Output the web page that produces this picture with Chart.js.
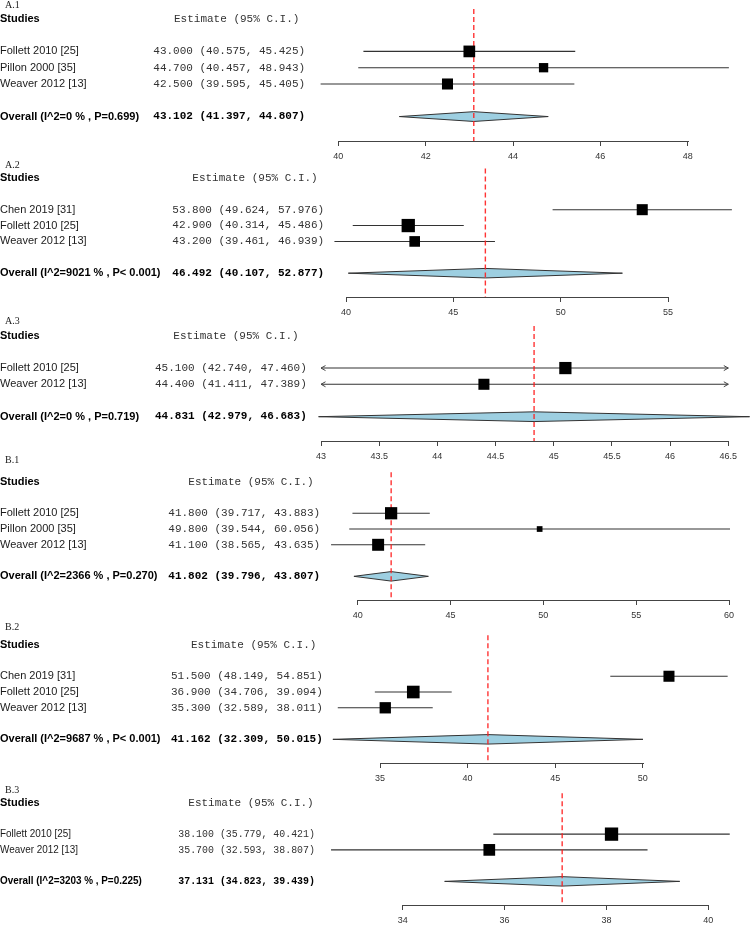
<!DOCTYPE html>
<html>
<head>
<meta charset="utf-8">
<script src="https://cdn.jsdelivr.net/npm/chart.js@4.4.1/dist/chart.umd.min.js"></script>
<style>
  body { margin: 0; background: #fff; }
  #wrap { position: relative; width: 750px; height: 939px; overflow: hidden; }
  #wrap canvas { position: absolute; left: 0; }
</style>
</head>
<body>
<div id="wrap"></div>
<script>
// A.1
const a1Studies = ['Follett 2010 [25]', 'Pillon 2000 [35]', 'Weaver 2012 [13]'];
const a1Est = [43.000, 44.700, 42.500];
const a1Lo = [40.575, 40.457, 39.595];
const a1Hi = [45.425, 48.943, 45.405];
const a1Weight = [0.88, 0.70, 0.83];
const a1Overall = [43.102, 41.397, 44.807];
const a1OverallLabel = 'Overall (I^2=0 % , P=0.699)';
const a1Ticks = [40, 42, 44, 46, 48];

// A.2
const a2Studies = ['Chen 2019 [31]', 'Follett 2010 [25]', 'Weaver 2012 [13]'];
const a2Est = [53.800, 42.900, 43.200];
const a2Lo = [49.624, 40.314, 39.461];
const a2Hi = [57.976, 45.486, 46.939];
const a2Weight = [0.83, 1.0, 0.80];
const a2Overall = [46.492, 40.107, 52.877];
const a2OverallLabel = 'Overall (I^2=9021 % , P< 0.001)';
const a2Ticks = [40, 45, 50, 55];

// A.3
const a3Studies = ['Follett 2010 [25]', 'Weaver 2012 [13]'];
const a3Est = [45.100, 44.400];
const a3Lo = [42.740, 41.411];
const a3Hi = [47.460, 47.389];
const a3Weight = [0.92, 0.83];
const a3Overall = [44.831, 42.979, 46.683];
const a3OverallLabel = 'Overall (I^2=0 % , P=0.719)';
const a3Ticks = [43, 43.5, 44, 44.5, 45, 45.5, 46, 46.5];

// B.1
const b1Studies = ['Follett 2010 [25]', 'Pillon 2000 [35]', 'Weaver 2012 [13]'];
const b1Est = [41.800, 49.800, 41.100];
const b1Lo = [39.717, 39.544, 38.565];
const b1Hi = [43.883, 60.056, 43.635];
const b1Weight = [0.92, 0.43, 0.90];
const b1Overall = [41.802, 39.796, 43.807];
const b1OverallLabel = 'Overall (I^2=2366 % , P=0.270)';
const b1Ticks = [40, 45, 50, 55, 60];

// B.2
const b2Studies = ['Chen 2019 [31]', 'Follett 2010 [25]', 'Weaver 2012 [13]'];
const b2Est = [51.500, 36.900, 35.300];
const b2Lo = [48.149, 34.706, 32.589];
const b2Hi = [54.851, 39.094, 38.011];
const b2Weight = [0.83, 0.95, 0.85];
const b2Overall = [41.162, 32.309, 50.015];
const b2OverallLabel = 'Overall (I^2=9687 % , P< 0.001)';
const b2Ticks = [35, 40, 45, 50];

// B.3
const b3Studies = ['Follett 2010 [25]', 'Weaver 2012 [13]'];
const b3Est = [38.100, 35.700];
const b3Lo = [35.779, 32.593];
const b3Hi = [40.421, 38.807];
const b3Weight = [1.0, 0.88];
const b3Overall = [37.131, 34.823, 39.439];
const b3OverallLabel = 'Overall (I^2=3203 % , P=0.225)';
const b3Ticks = [34, 36, 38, 40];

const W = 750;
const BOX = 13.3;      // px side of a square with weight 1
const DIA = 0.3;       // diamond half height, in rows
const AXIS_H = 26;
const ROW_MIN = -2.2;
const SANS = '"Liberation Sans", Arial, sans-serif';
const MONO = '"Liberation Mono", "Courier New", monospace';
const SERIF = '"Liberation Serif", "Times New Roman", serif';

// page layout of each panel (pixels); sx squeezes the row text of B.3
const panels = [
  { name: 'A.1', studies: a1Studies, est: a1Est, lo: a1Lo, hi: a1Hi, weight: a1Weight, overall: a1Overall, overallLabel: a1OverallLabel, ticks: a1Ticks,
    headerY: 18, axisY: 140.5, labelRow: -0.82, tickL: 338.3, tickR: 687.7, estX: 153.3, headX: 174, sx: 1 },
  { name: 'A.2', studies: a2Studies, est: a2Est, lo: a2Lo, hi: a2Hi, weight: a2Weight, overall: a2Overall, overallLabel: a2OverallLabel, ticks: a2Ticks,
    headerY: 178, axisY: 296.7, labelRow: -0.82, tickL: 346, tickR: 668, estX: 172.3, headX: 192.3, sx: 1 },
  { name: 'A.3', studies: a3Studies, est: a3Est, lo: a3Lo, hi: a3Hi, weight: a3Weight, overall: a3Overall, overallLabel: a3OverallLabel, ticks: a3Ticks,
    headerY: 335, axisY: 440.7, labelRow: -0.89, tickL: 321, tickR: 728.3, estX: 155, headX: 173.3, sx: 1, arrows: true },
  { name: 'B.1', studies: b1Studies, est: b1Est, lo: b1Lo, hi: b1Hi, weight: b1Weight, overall: b1Overall, overallLabel: b1OverallLabel, ticks: b1Ticks,
    headerY: 481.7, axisY: 600, labelRow: -1.37, tickL: 357.7, tickR: 729, estX: 168.3, headX: 188.3, sx: 1 },
  { name: 'B.2', studies: b2Studies, est: b2Est, lo: b2Lo, hi: b2Hi, weight: b2Weight, overall: b2Overall, overallLabel: b2OverallLabel, ticks: b2Ticks,
    headerY: 645, axisY: 763.3, labelRow: -1.08, tickL: 380, tickR: 642.7, estX: 171, headX: 191, sx: 1 },
  { name: 'B.3', studies: b3Studies, est: b3Est, lo: b3Lo, hi: b3Hi, weight: b3Weight, overall: b3Overall, overallLabel: b3OverallLabel, ticks: b3Ticks,
    headerY: 802.3, axisY: 905, labelRow: -0.78, tickL: 402.7, tickR: 708.3, estX: 178.3, headX: 188.3, sx: 0.9 }
];

function estText(e, l, h) {
  return `${e.toFixed(3)} (${l.toFixed(3)}, ${h.toFixed(3)})`;
}

function textPlugin(p, rows, ovRow) {
  const first = p.ticks[0], last = p.ticks[p.ticks.length - 1];
  return {
    id: 'forestText',
    afterDraw(chart) {
      const ctx = chart.ctx, xs = chart.scales.x, ys = chart.scales.y;
      const put = (txt, x, y, sx) => {
        ctx.save();
        ctx.translate(x, y);
        ctx.scale(sx, 1);
        ctx.fillText(txt, 0, 0);
        ctx.restore();
      };
      ctx.save();

      // axis line only between the outer ticks
      const ay = Math.round(chart.chartArea.bottom) + 0.5;
      ctx.strokeStyle = '#444';
      ctx.lineWidth = 1;
      ctx.beginPath();
      ctx.moveTo(Math.round(xs.getPixelForValue(first)), ay);
      ctx.lineTo(Math.round(xs.getPixelForValue(last)) + 1, ay);
      ctx.stroke();

      // arrows where a CI runs past the axis
      if (p.arrows) {
        ctx.strokeStyle = '#444';
        rows.forEach((r, i) => {
          const y = ys.getPixelForValue(r);
          if (p.lo[i] < first) {
            const x0 = xs.getPixelForValue(first);
            ctx.beginPath();
            ctx.moveTo(x0 + 4.5, y - 2.5); ctx.lineTo(x0, y); ctx.lineTo(x0 + 4.5, y + 2.5);
            ctx.stroke();
          }
          if (p.hi[i] > last) {
            const x1 = xs.getPixelForValue(last);
            ctx.beginPath();
            ctx.moveTo(x1 - 4.5, y - 2.5); ctx.lineTo(x1, y); ctx.lineTo(x1 - 4.5, y + 2.5);
            ctx.stroke();
          }
        });
      }

      ctx.textBaseline = 'middle';
      ctx.textAlign = 'left';

      ctx.fillStyle = '#222';
      ctx.font = `10px ${SERIF}`;
      ctx.fillText(p.name, 5, ys.getPixelForValue(p.labelRow));

      ctx.fillStyle = '#000';
      ctx.font = `bold 11px ${SANS}`;
      ctx.fillText('Studies', 0, ys.getPixelForValue(0));
      ctx.fillStyle = '#333';
      ctx.font = `11px ${MONO}`;
      ctx.fillText('Estimate (95% C.I.)', p.headX, ys.getPixelForValue(0));

      p.studies.forEach((s, i) => {
        const y = ys.getPixelForValue(rows[i]);
        ctx.fillStyle = '#1a1a1a';
        ctx.font = `11px ${SANS}`;
        put(s, 0, y, p.sx);
        ctx.fillStyle = '#333';
        ctx.font = `11px ${MONO}`;
        put(estText(p.est[i], p.lo[i], p.hi[i]), p.estX, y, p.sx);
      });

      const yo = ys.getPixelForValue(ovRow);
      ctx.fillStyle = '#000';
      ctx.font = `bold 11px ${SANS}`;
      put(p.overallLabel, 0, yo, p.sx);
      ctx.font = `bold 11px ${MONO}`;
      put(estText(p.overall[0], p.overall[1], p.overall[2]), p.estX, yo, p.sx);

      ctx.restore();
    }
  };
}

function drawPanel(p) {
  const n = p.studies.length;
  const rows = p.studies.map((s, i) => i + 2);
  const ovRow = n + 3;
  const yMax = ovRow + 1.5;
  const sp = (p.axisY - p.headerY) / yMax;
  const areaH = Math.round((yMax - ROW_MIN) * sp);
  const top = p.axisY - areaH;

  const first = p.ticks[0], last = p.ticks[p.ticks.length - 1];
  const k = (p.tickR - p.tickL) / (last - first);
  const xMin = first - p.tickL / k;
  const xMax = first + (W - p.tickL) / k;

  const lo = p.arrows ? p.lo.map(v => Math.max(v, first)) : p.lo;
  const hi = p.arrows ? p.hi.map(v => Math.min(v, last)) : p.hi;
  const [ov, ovLo, ovHi] = p.overall;

  const canvas = document.createElement('canvas');
  canvas.width = W;
  canvas.height = areaH + AXIS_H;
  canvas.style.top = top + 'px';
  document.getElementById('wrap').appendChild(canvas);

  const datasets = [
    {
      label: 'estimate',
      data: p.est.map((v, i) => ({ x: v, y: rows[i] })),
      pointStyle: 'rect',
      pointRadius: p.weight.map(w => w * BOX / Math.SQRT2),
      backgroundColor: '#000',
      borderWidth: 0,
      order: 0
    },
    {
      label: 'overall line',
      data: [{ x: ov, y: -0.6 }, { x: ov, y: yMax }],
      showLine: true,
      pointRadius: 0,
      borderColor: 'rgba(255,30,30,0.9)',
      borderWidth: 1.4,
      borderDash: [5, 3],
      order: 1
    },
    ...p.studies.map((s, i) => ({
      label: s,
      data: [{ x: lo[i], y: rows[i] }, { x: hi[i], y: rows[i] }],
      showLine: true,
      pointRadius: 0,
      borderColor: '#333',
      borderWidth: 1.1,
      order: 2
    })),
    {
      label: 'overall',
      data: [
        { x: ovLo, y: ovRow }, { x: ov, y: ovRow - DIA },
        { x: ovHi, y: ovRow }, { x: ov, y: ovRow + DIA }, { x: ovLo, y: ovRow }
      ],
      showLine: true,
      pointRadius: 0,
      borderColor: '#333',
      borderWidth: 1,
      backgroundColor: '#9dcfe1',
      fill: 'shape',
      order: 3
    }
  ];

  new Chart(canvas, {
    type: 'scatter',
    data: { datasets },
    options: {
      responsive: false,
      animation: false,
      events: [],
      layout: { padding: 0, autoPadding: false },
      plugins: { legend: { display: false }, tooltip: { enabled: false } },
      scales: {
        x: {
          type: 'linear',
          min: xMin,
          max: xMax,
          afterBuildTicks: s => { s.ticks = p.ticks.map(v => ({ value: v })); },
          afterFit: s => { s.height = AXIS_H; },
          ticks: {
            autoSkip: false,
            maxRotation: 0,
            padding: 5,
            color: '#333',
            font: { family: 'Liberation Sans', size: 9 },
            callback: v => String(v)
          },
          grid: { drawOnChartArea: false, drawTicks: true, tickLength: 5, color: '#444' },
          border: { display: false }
        },
        y: {
          type: 'linear',
          display: false,
          reverse: true,
          min: ROW_MIN,
          max: yMax
        }
      }
    },
    plugins: [textPlugin(p, rows, ovRow)]
  });
}

panels.forEach(drawPanel);
</script>
</body>
</html>
